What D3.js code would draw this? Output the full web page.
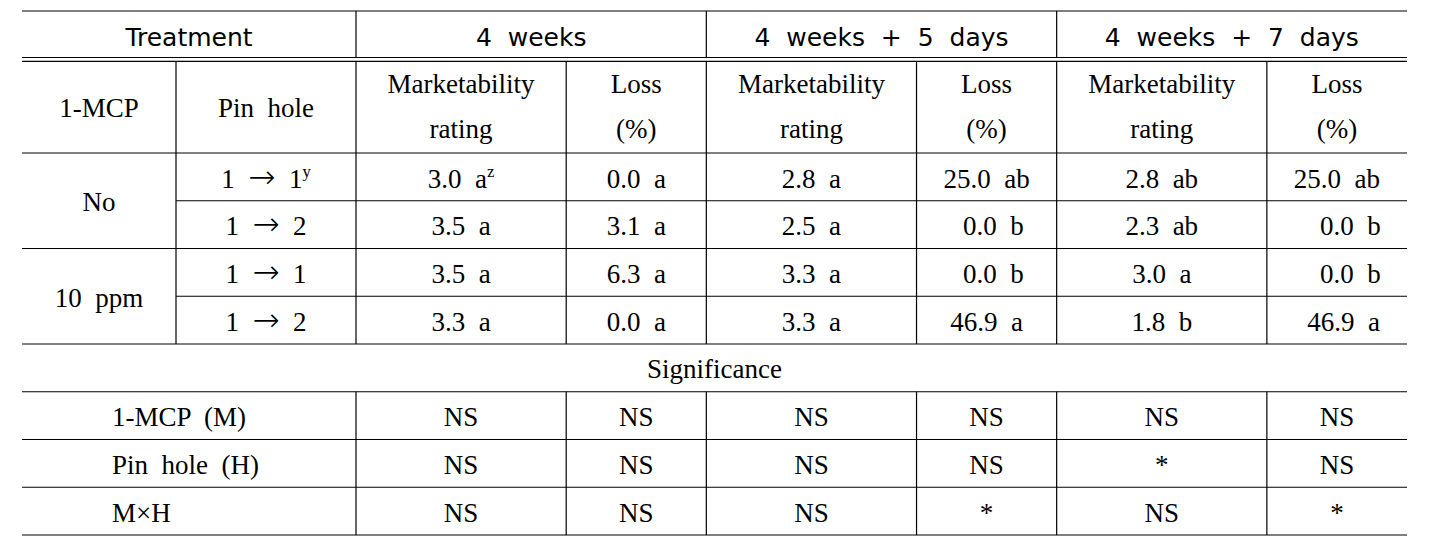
<!DOCTYPE html>
<html>
<head>
<meta charset="utf-8">
<script src="https://cdn.jsdelivr.net/npm/d3@7"></script>
<style>
  html, body { margin: 0; padding: 0; background: #fff; }
  svg text { white-space: pre; }
</style>
</head>
<body>
<svg id="chart" width="1429" height="540"></svg>
<script>
// ---------- data ----------
const treatmentLabel = "Treatment";
const periods = ["4  weeks", "4  weeks  +  5  days", "4  weeks  +  7  days"];
const subHeaderMarket = ["Marketability", "rating"];
const subHeaderLoss = ["Loss", "(%)"];
const factorHeaders = ["1-MCP", "Pin  hole"];
const mcpLevels = ["No", "10  ppm"];
const pinHoles = ["1  →  1", "1  →  2", "1  →  1", "1  →  2"];
const pinHoleNotes = ["y", "", "", ""];

const market4w  = ["3.0  a", "3.5  a", "3.5  a", "3.3  a"];
const market4wNotes = ["z", "", "", ""];
const loss4w    = ["0.0  a", "3.1  a", "6.3  a", "0.0  a"];
const market5d  = ["2.8  a", "2.5  a", "3.3  a", "3.3  a"];
const loss5d    = ["25.0  ab", "  0.0  b", "  0.0  b", "46.9  a"];
const market7d  = ["2.8  ab", "2.3  ab", "3.0  a", "1.8  b"];
const loss7d    = ["25.0  ab", "    0.0  b", "    0.0  b", "  46.9  a"];

const significanceTitle = "Significance";
const sigLabels = ["1-MCP  (M)", "Pin  hole  (H)", "M×H"];
const sigMarket4w = ["NS", "NS", "NS"];
const sigLoss4w   = ["NS", "NS", "NS"];
const sigMarket5d = ["NS", "NS", "NS"];
const sigLoss5d   = ["NS", "NS", "*"];
const sigMarket7d = ["NS", "*", "NS"];
const sigLoss7d   = ["NS", "NS", "*"];

// ---------- layout ----------
const svg = d3.select("#chart");
const left = 22, right = 1407;
const serif = "'Liberation Serif', 'Times New Roman', serif";
const sans = "'DejaVu Sans', sans-serif";
const fsSerif = 27, fsSans = 25;
const lineW = 1.2;

const headTop = 11, dbl1 = 57.5, dbl2 = 61.3, bodyTop = 153;
const rowY = d3.scaleLinear().domain([0, 8]).range([bodyTop, 535]);
const factorX = d3.scaleOrdinal().domain([0, 1, 2]).range([left, 176, 356]);
const groupX = d3.scaleLinear().domain([0, 3]).range([356, right]);
const subFrac = 0.6;
const colLeft = (g, s) => s === 0 ? groupX(g) : groupX(g) + (groupX(g + 1) - groupX(g)) * subFrac;
const colRight = (g, s) => s === 0 ? colLeft(g, 1) : groupX(g + 1);
const colMid = (g, s) => (colLeft(g, s) + colRight(g, s)) / 2;

const lines = svg.append("g").attr("stroke", "#000").attr("stroke-width", lineW);
const hline = (x1, x2, y) => lines.append("line").attr("x1", x1).attr("x2", x2).attr("y1", y).attr("y2", y);
const vline = (x, y1, y2) => lines.append("line").attr("x1", x).attr("x2", x).attr("y1", y1).attr("y2", y2);

hline(left, right, headTop);
hline(left, right, dbl1);
hline(left, right, dbl2);
hline(left, right, rowY(0));
hline(factorX(1), right, rowY(1));
hline(left, right, rowY(2));
hline(factorX(1), right, rowY(3));
for (let i = 4; i <= 8; i++) hline(left, right, rowY(i));

[0, 1, 2].forEach(g => vline(groupX(g), headTop, dbl1));
const bodyCols = [factorX(1), factorX(2)];
[0, 1, 2].forEach(g => { bodyCols.push(colLeft(g, 1)); if (g > 0) bodyCols.push(groupX(g)); });
bodyCols.forEach(x => vline(x, dbl2, rowY(4)));
const sigCols = bodyCols.filter(x => x !== factorX(1));
sigCols.forEach(x => vline(x, rowY(5), rowY(8)));

// ---------- text ----------
const txt = svg.append("g").attr("fill", "#000");
function put(x, y, s, opts = {}) {
  const size = opts.size || fsSerif;
  const t = txt.append("text")
    .attr("x", x).attr("y", y)
    .attr("text-anchor", opts.anchor || "middle")
    .attr("font-family", opts.family || serif)
    .attr("font-size", size)
    .attr("xml:space", "preserve");
  const parts = s.split("→");
  parts.forEach((p, k) => {
    if (k > 0) {
      t.append("tspan").attr("font-family", "'DejaVu Sans', sans-serif")
        .attr("font-weight", 200)
        .attr("font-size", size * 1.2).text("→");
    }
    t.append("tspan").text(p);
  });
  if (opts.sup) {
    t.append("tspan").attr("font-size", size * 0.62)
      .attr("dy", -(size * 0.38)).text(opts.sup);
  }
  return t;
}

put((left + groupX(0)) / 2, 46, treatmentLabel, { family: sans, size: fsSans });
periods.forEach((p, g) => put((groupX(g) + groupX(g + 1)) / 2, 46, p, { family: sans, size: fsSans }));

factorHeaders.forEach((h, i) => put((factorX(i) + factorX(i + 1)) / 2, 117, h));
[0, 1, 2].forEach(g => {
  [subHeaderMarket, subHeaderLoss].forEach((lab, s) => {
    put(colMid(g, s), 93, lab[0]);
    put(colMid(g, s), 138, lab[1]);
  });
});

const base = i => (rowY(i) + rowY(i + 1)) / 2 + 10.8;
mcpLevels.forEach((m, k) => put((factorX(0) + factorX(1)) / 2, (rowY(2 * k) + rowY(2 * k + 2)) / 2 + 10.5, m));
pinHoles.forEach((p, i) => put((factorX(1) + factorX(2)) / 2, base(i), p, { sup: pinHoleNotes[i] }));
const bodyCols2 = [[market4w, loss4w], [market5d, loss5d], [market7d, loss7d]];
bodyCols2.forEach((pair, g) => pair.forEach((arr, s) => arr.forEach((v, i) => {
  put(colMid(g, s), base(i), v, { sup: (g === 0 && s === 0) ? market4wNotes[i] : "" });
})));

put((left + right) / 2, base(4) - 1, significanceTitle);
sigLabels.forEach((l, i) => put(112, base(5 + i), l, { anchor: "start" }));
const sigCols2 = [[sigMarket4w, sigLoss4w], [sigMarket5d, sigLoss5d], [sigMarket7d, sigLoss7d]];
sigCols2.forEach((pair, g) => pair.forEach((arr, s) => arr.forEach((v, i) => {
  put(colMid(g, s), base(5 + i), v);
})));
</script>
</body>
</html>
